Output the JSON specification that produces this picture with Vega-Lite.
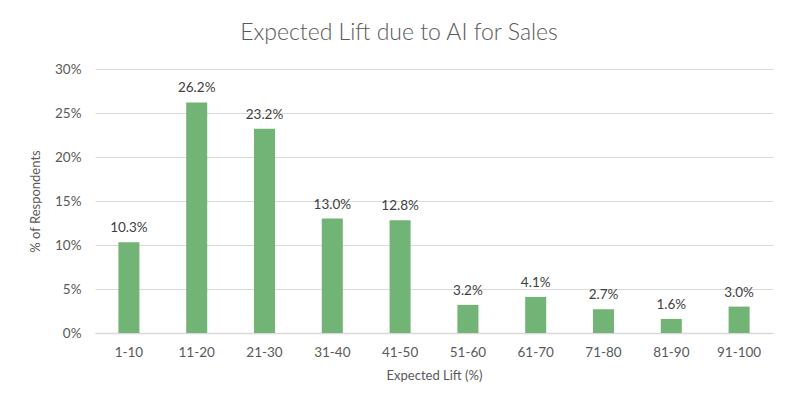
{
  "$schema": "https://vega.github.io/schema/vega-lite/v6.json",
  "autosize": "none",
  "width": 678,
  "height": 264,
  "padding": {"left": 95, "top": 69, "right": 27, "bottom": 85},
  "background": "white",
  "config": {
    "font": "Lato",
    "view": {"stroke": null},
    "axis": {"labelColor": "#595959", "titleColor": "#595959", "labelFont": "Lato", "titleFont": "Lato", "titleFontWeight": "normal"}
  },
  "title": {
    "text": "Expected Lift due to AI for Sales",
    "fontSize": 23,
    "fontWeight": 300,
    "color": "#595959",
    "font": "Lato",
    "dx": -35,
    "offset": 17
  },
  "data": {
    "values": [
      {"range": "1-10", "pct": 0.103},
      {"range": "11-20", "pct": 0.262},
      {"range": "21-30", "pct": 0.232},
      {"range": "31-40", "pct": 0.130},
      {"range": "41-50", "pct": 0.128},
      {"range": "51-60", "pct": 0.032},
      {"range": "61-70", "pct": 0.041},
      {"range": "71-80", "pct": 0.027},
      {"range": "81-90", "pct": 0.016},
      {"range": "91-100", "pct": 0.030}
    ]
  },
  "encoding": {
    "x": {
      "field": "range",
      "type": "nominal",
      "sort": null,
      "scale": {"paddingInner": 0.69, "paddingOuter": 0.345},
      "axis": {
        "title": "Expected Lift (%)",
        "titleFontSize": 13,
        "titlePadding": 11,
        "labelAngle": 0,
        "labelFontSize": 13.5,
        "labelPadding": 12,
        "ticks": false,
        "domainColor": "#d9d9d9",
        "domainWidth": 1.5
      }
    },
    "y": {
      "field": "pct",
      "type": "quantitative",
      "scale": {"domain": [0, 0.3]},
      "axis": {
        "title": "% of Respondents",
        "titleFontSize": 13,
        "titlePadding": 12,
        "format": ".0%",
        "values": [0, 0.05, 0.1, 0.15, 0.2, 0.25, 0.3],
        "labelFontSize": 13.5,
        "labelPadding": 14,
        "ticks": false,
        "domain": false,
        "gridColor": "#d9d9d9",
        "gridWidth": 1.2
      }
    }
  },
  "layer": [
    {"mark": {"type": "bar", "color": "#71b475"}},
    {
      "mark": {"type": "text", "baseline": "bottom", "dy": -7, "fontSize": 13.5, "color": "#404040", "font": "Lato"},
      "encoding": {"text": {"field": "pct", "type": "quantitative", "format": ".1%"}}
    }
  ]
}
